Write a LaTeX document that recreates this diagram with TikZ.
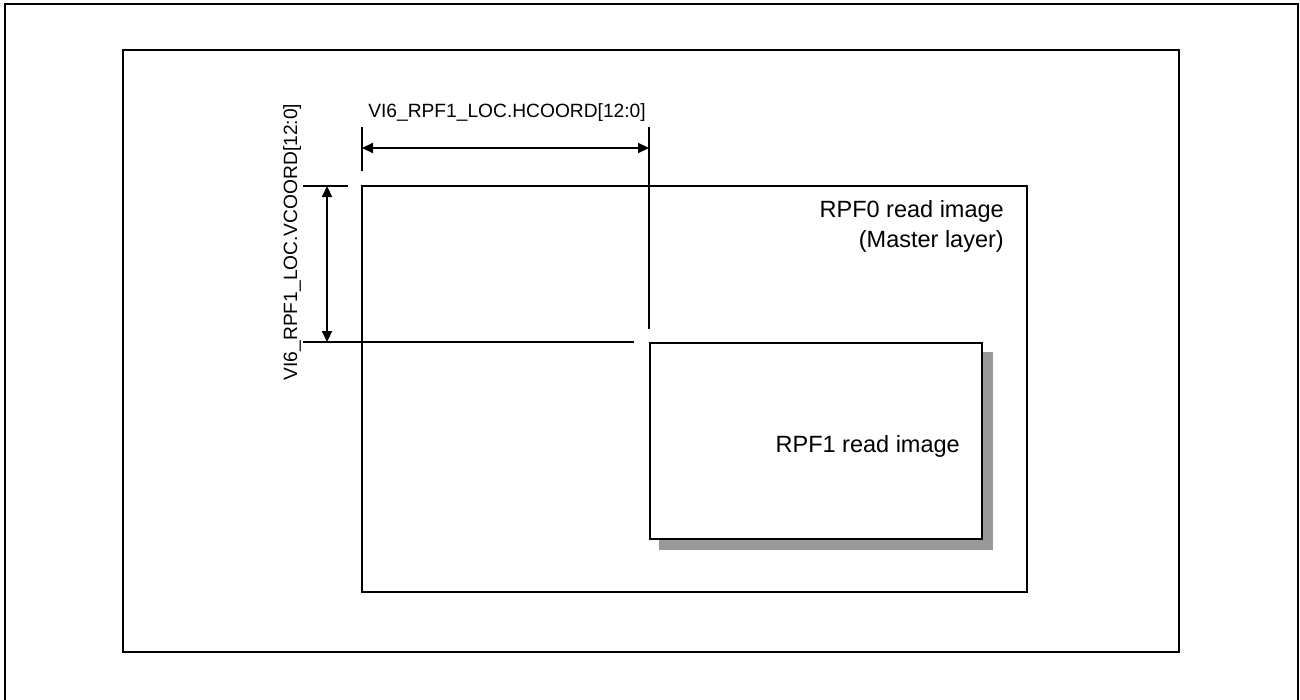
\documentclass[tikz,border=0pt]{standalone}
\usepackage{fontspec}
\setmainfont{Liberation Sans}
\usetikzlibrary{arrows.meta}
\begin{document}
\begin{tikzpicture}[x=1pt,y=-1pt,
  frame/.style={draw=black,line width=2.6pt},
  boxline/.style={draw=black,line width=2.2pt,inner sep=0pt,outer sep=0pt},
  extline/.style={draw=black,line width=2.2pt},
  dimarrow/.style={draw=black,line width=2.2pt,{Triangle[length=11pt,width=10pt]}-{Triangle[length=11pt,width=10pt]}},
  dimlabel/.style={font=\fontsize{19.2}{22}\selectfont,inner sep=0pt},
  boxlabel/.style={font=\fontsize{23.5}{30}\selectfont,inner sep=0pt}]
\useasboundingbox (0,0) rectangle (1300,699);
% outer frame (bottom edge lies outside the page)
\draw[frame] (5,4) rectangle (1298,720);
% inner frame
\node[boxline,minimum width=1056pt,minimum height=602pt,anchor=north west] (inner) at (123,50) {};
% RPF0 read image
\node[boxline,minimum width=665pt,minimum height=406pt,anchor=north west] (rpf0) at (362,186) {};
\node[boxlabel,anchor=base east] (lab0a) at (1004,217) {RPF0 read image};
\node[boxlabel,anchor=base east] (lab0b) at (1004,247) {(Master layer)};
% shadow of RPF1
\fill[black!40] (659,352) rectangle (993,550);
% RPF1 read image
\node[boxline,fill=white,minimum width=332pt,minimum height=196pt,anchor=north west] (rpf1) at (650,343) {};
\node[boxlabel,anchor=base east] (lab1) at (960,452) {RPF1 read image};
% extension lines
\coordinate (hl1) at (362,127);
\coordinate (hl2) at (362,171);
\coordinate (hr1) at (649,127);
\coordinate (hr2) at (649,329);
\coordinate (vt1) at (303,186);
\coordinate (vt2) at (348,186);
\coordinate (vb1) at (303,342);
\coordinate (vb2) at (634,342);
\draw[extline] (hl1) -- (hl2);
\draw[extline] (hr1) -- (hr2);
\draw[extline] (vt1) -- (vt2);
\draw[extline] (vb1) -- (vb2);
% dimension arrows
\coordinate (ha) at (362,148);
\coordinate (hb) at (649,148);
\coordinate (va) at (327,186);
\coordinate (vb) at (327,342);
\draw[dimarrow] (ha) -- (hb);
\draw[dimarrow] (va) -- (vb);
% dimension labels
\node[dimlabel,anchor=base] (hlab) at (507,117) {VI6\_RPF1\_LOC.HCOORD[12:0]};
\node[dimlabel,anchor=base,rotate=90] (vlab) at (297,242) {VI6\_RPF1\_LOC.VCOORD[12:0]};
\end{tikzpicture}
\end{document}
